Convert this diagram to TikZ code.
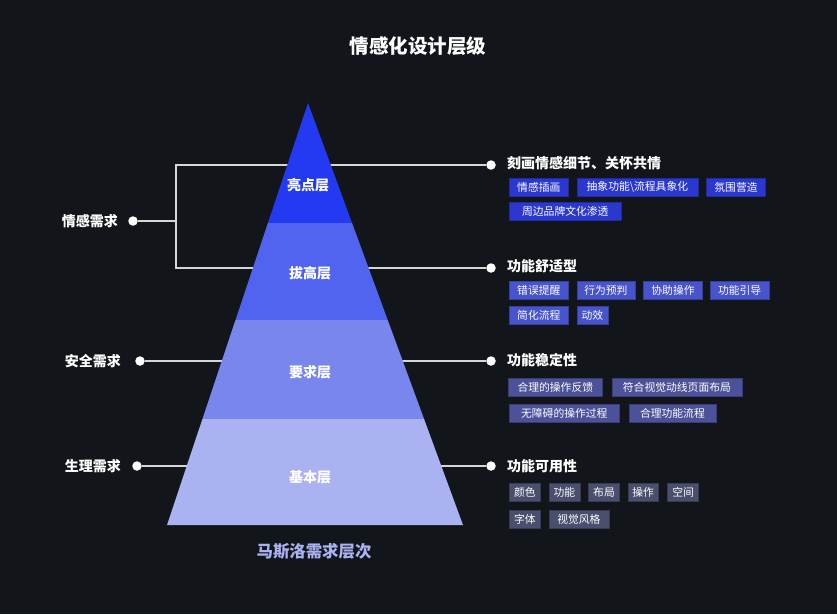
\documentclass[tikz,border=0pt]{standalone}
\usepackage{fontspec}
\setmainfont{Noto Sans CJK SC}
\usetikzlibrary{positioning,calc}

\definecolor{bgdark}{HTML}{121519}
\definecolor{linegray}{HTML}{D6D6D6}
\definecolor{layerA}{HTML}{2339F2}
\definecolor{layerB}{HTML}{5064F0}
\definecolor{layerC}{HTML}{7886EE}
\definecolor{layerD}{HTML}{AAB2F2}
\definecolor{tagA}{HTML}{2B38D0}
\definecolor{tagB}{HTML}{4854CC}
\definecolor{tagC}{HTML}{4C5299}
\definecolor{tagD}{HTML}{4A4F6E}

\tikzset{
  dot/.style={circle,fill=white,inner sep=0pt,minimum size=9.5pt},
  link/.style={draw=linegray,line width=1.5pt},
  head/.style={anchor=west,inner sep=0pt,text=white,font=\fontsize{14}{16}\selectfont\bfseries},
  need/.style={anchor=east,inner sep=0pt,text=white,font=\fontsize{14}{16}\selectfont\bfseries},
  level/.style={inner sep=0pt,text=white,font=\fontsize{14}{16}\selectfont\bfseries},
  tag/.style={anchor=west,minimum height=18pt,inner xsep=2pt,inner ysep=0pt,
    text=white,font=\fontsize{10.8}{12}\selectfont,fill=#1,draw=#1!75!black,line width=0.6pt},
  wd/.style={minimum width=#1pt},
}

\begin{document}
\begin{tikzpicture}[x=1pt,y=-1pt]
  \fill[bgdark] (0,0) rectangle (837,614);
  \useasboundingbox (0,0) rectangle (837,614);

  % title
  \node[text=white,font=\fontsize{19.5}{22}\selectfont\bfseries] (title) at (418,46) {情感化设计层级};

  % dots and connectors (behind the pyramid)
  \node[dot] (ld1) at (133,221) {};
  \node[dot] (ld2) at (140,361) {};
  \node[dot] (ld3) at (137,466) {};
  \node[dot] (rd1) at (491,165) {};
  \node[dot] (rd2) at (491,268) {};
  \node[dot] (rd3) at (491,361) {};
  \node[dot] (rd4) at (491,466) {};
  \coordinate (brtop) at (176,165);
  \coordinate (brmid) at (176,221);

  \draw[link] (rd1) -- (brtop) |- (rd2);
  \draw[link] (ld1) -- (brmid);
  \draw[link] (ld2) -- (rd3);
  \draw[link] (ld3) -- (rd4);

  % pyramid
  \coordinate (apex) at (308,103);
  \coordinate (bl) at (167,525);
  \coordinate (br) at (463,525);
  \coordinate (l1) at ($(apex)!0.2844!(bl)$);
  \coordinate (r1) at ($(apex)!0.2844!(br)$);
  \coordinate (l2) at ($(apex)!0.5142!(bl)$);
  \coordinate (r2) at ($(apex)!0.5142!(br)$);
  \coordinate (l3) at ($(apex)!0.7488!(bl)$);
  \coordinate (r3) at ($(apex)!0.7488!(br)$);
  \fill[layerA] (apex) -- (r1) -- (l1) -- cycle;
  \fill[layerB] (l1) -- (r1) -- (r2) -- (l2) -- cycle;
  \fill[layerC] (l2) -- (r2) -- (r3) -- (l3) -- cycle;
  \fill[layerD] (l3) -- (r3) -- (br) -- (bl) -- cycle;

  \node[level] (lv1) at (308,185) {亮点层};
  \node[level] (lv2) at (310,273) {拔高层};
  \node[level] (lv3) at (310,372) {要求层};
  \node[level] (lv4) at (310,477) {基本层};

  \node[text=layerD,font=\fontsize{16.4}{18}\selectfont\bfseries] (maslow) at (314,551) {马斯洛需求层次};

  % left needs
  \node[need] (nd1) at (118,221) {情感需求};
  \node[need] (nd2) at (121,361) {安全需求};
  \node[need] (nd3) at (121,466) {生理需求};

  % right headings
  \node[head] (h1) at (507,163) {刻画情感细节、关怀共情};
  \node[head] (h2) at (507,266) {功能舒适型};
  \node[head] (h3) at (507,360) {功能稳定性};
  \node[head] (h4) at (507,466) {功能可用性};

  % tags
  \node[tag=tagA,wd=59] (a1) at (509,187) {情感插画};
  \node[tag=tagA,wd=121,right=8pt of a1] (a2) {抽象功能\textbackslash 流程具象化};
  \node[tag=tagA,wd=59,right=8pt of a2] (a3) {氛围营造};
  \node[tag=tagA,wd=112] (a4) at (509,211) {周边品牌文化渗透};

  \node[tag=tagB,wd=59] (b1) at (509,290) {错误提醒};
  \node[tag=tagB,wd=58,right=8pt of b1] (b2) {行为预判};
  \node[tag=tagB,wd=59,right=8pt of b2] (b3) {协助操作};
  \node[tag=tagB,wd=59,right=7pt of b3] (b4) {功能引导};
  \node[tag=tagB,wd=59] (b5) at (509,315) {简化流程};
  \node[tag=tagB,wd=31,right=8pt of b5] (b6) {动效};

  \node[tag=tagC,wd=94] (c1) at (508,387) {合理的操作反馈};
  \node[tag=tagC,wd=130,right=9pt of c1] (c2) {符合视觉动线页面布局};
  \node[tag=tagC,wd=110] (c3) at (509,413) {无障碍的操作过程};
  \node[tag=tagC,wd=87,right=9pt of c3] (c4) {合理功能流程};

  \node[tag=tagD,wd=31] (d1) at (509,492) {颜色};
  \node[tag=tagD,wd=31,right=8pt of d1] (d2) {功能};
  \node[tag=tagD,wd=31,right=8pt of d2] (d3) {布局};
  \node[tag=tagD,wd=30,right=8pt of d3] (d4) {操作};
  \node[tag=tagD,wd=31,right=9pt of d4] (d5) {空间};
  \node[tag=tagD,wd=31] (d6) at (509,519) {字体};
  \node[tag=tagD,wd=60,right=8pt of d6] (d7) {视觉风格};
\end{tikzpicture}
\end{document}
